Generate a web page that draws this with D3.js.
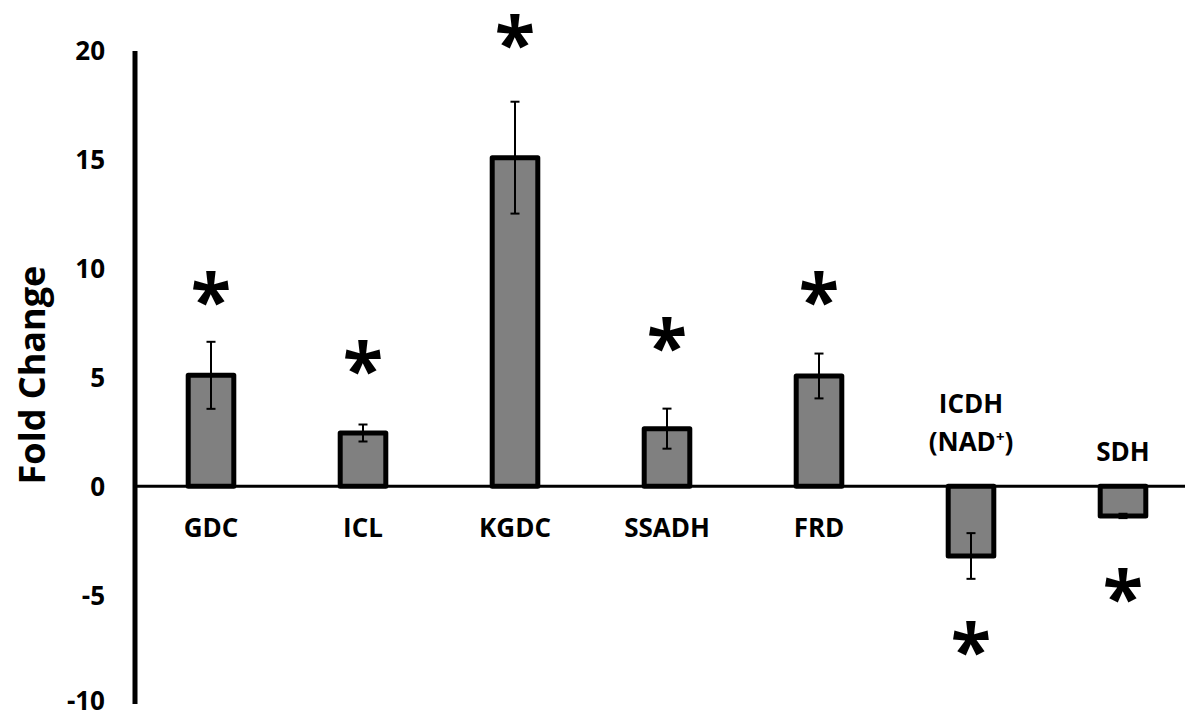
<!DOCTYPE html>
<html>
<head>
<meta charset="utf-8">
<script src="https://cdn.jsdelivr.net/npm/d3@7"></script>
<style>
  html, body { margin: 0; padding: 0; background: #fff; }
  svg { display: block; }
  text { font-family: "Open Sans", "Noto Sans", sans-serif; font-weight: bold; fill: #000; }
</style>
</head>
<body>
<svg id="chart" width="1185" height="715"></svg>
<script>
// ---- data ----
const categories = ["GDC", "ICL", "KGDC", "SSADH", "FRD", "ICDH (NAD+)", "SDH"];
const values     = [5.1, 2.45, 15.1, 2.65, 5.07, -3.2, -1.36];
const errors     = [1.54, 0.39, 2.57, 0.92, 1.03, 1.05, 0.1];
const starLevels = [8.9, 5.7, 20.7, 6.75, 8.87, -7.2, -4.78];
const yTicks     = [20, 15, 10, 5, 0, -5, -10];
const yLabel     = "Fold Change";

// ---- layout ----
const svg = d3.select("#chart");
const axisX = 135;
const y = d3.scaleLinear().domain([-10, 20]).range([704, 51]);
const x = d3.scaleBand().domain(categories).range([axisX, axisX + 152 * 7]).padding(0);
const barW = x.bandwidth() * 0.3;
const cx = c => x(c) + x.bandwidth() / 2;

// zero line
svg.append("line")
  .attr("x1", axisX).attr("x2", 1185)
  .attr("y1", y(0)).attr("y2", y(0))
  .attr("stroke", "#000").attr("stroke-width", 3);

// y axis line
svg.append("line")
  .attr("x1", axisX).attr("x2", axisX)
  .attr("y1", y(20)).attr("y2", y(-10))
  .attr("stroke", "#000").attr("stroke-width", 5);

// y tick labels
svg.append("g").selectAll("text").data(yTicks).join("text")
  .attr("x", 105).attr("y", d => y(d))
  .attr("dy", d => d === -10 ? "0.22em" : "0.36em")
  .attr("text-anchor", "end")
  .attr("font-size", 26)
  .text(d => d);

// y axis title
svg.append("text")
  .attr("transform", `translate(${45},${375}) rotate(-90)`)
  .attr("text-anchor", "middle")
  .attr("font-size", 36)
  .text(yLabel);

// bars
const data = categories.map((c, i) => ({ c, v: values[i], e: errors[i], s: starLevels[i] }));

svg.append("g").selectAll("rect").data(data).join("rect")
  .attr("x", d => cx(d.c) - barW / 2)
  .attr("width", barW)
  .attr("y", d => y(Math.max(0, d.v)))
  .attr("height", d => Math.abs(y(d.v) - y(0)))
  .attr("fill", "#808080")
  .attr("stroke", "#000")
  .attr("stroke-width", 5)
  .attr("stroke-linejoin", "round");

// error bars
const eg = svg.append("g").attr("stroke", "#000").attr("stroke-width", 2);
data.forEach(d => {
  const x0 = cx(d.c);
  eg.append("line").attr("x1", x0).attr("x2", x0).attr("y1", y(d.v + d.e)).attr("y2", y(d.v - d.e));
  [d.v + d.e, d.v - d.e].forEach(t => {
    eg.append("line").attr("x1", x0 - 4.5).attr("x2", x0 + 4.5).attr("y1", y(t)).attr("y2", y(t));
  });
});

// stars
svg.append("g").selectAll("text").data(data).join("text")
  .attr("x", d => cx(d.c))
  .attr("y", d => y(d.s))
  .attr("dy", "0.46em")
  .attr("text-anchor", "middle")
  .attr("font-size", 74)
  .attr("font-family", "DejaVu Sans")
  .text("*");

// category labels
const labG = svg.append("g").attr("font-size", 26).attr("text-anchor", "middle");
data.forEach(d => {
  const x0 = cx(d.c);
  if (d.c === "ICDH (NAD+)") {
    labG.append("text").attr("x", x0).attr("y", 413).text("ICDH");
    const t = labG.append("text").attr("x", x0).attr("y", 451);
    t.append("tspan").text("(NAD");
    t.append("tspan").attr("font-size", 15).attr("dy", -9).text("+");
    t.append("tspan").attr("dy", 9).text(")");
  } else if (d.v < 0) {
    labG.append("text").attr("x", x0).attr("y", 461).text(d.c);
  } else {
    labG.append("text").attr("x", x0).attr("y", 537).text(d.c);
  }
});
</script>
</body>
</html>
